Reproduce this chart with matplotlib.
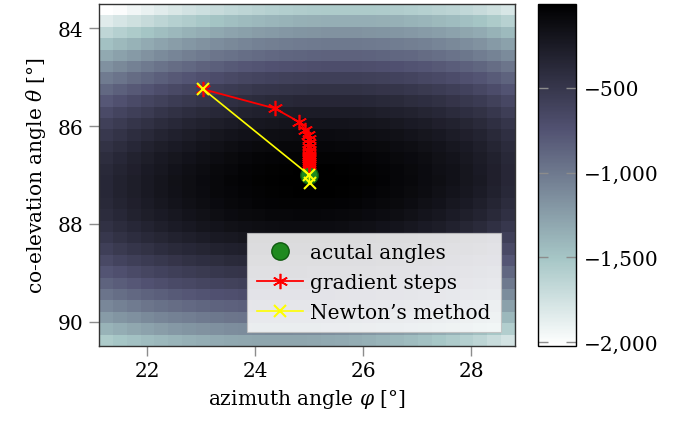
import numpy as np
import matplotlib
matplotlib.use('Agg')
import matplotlib.pyplot as plt
from matplotlib.ticker import FuncFormatter

plt.rcParams['font.family'] = ['DejaVu Serif']
plt.rcParams['mathtext.fontset'] = 'dejavuserif'
plt.rcParams['font.size'] = 14.5

# grid extent of the cost map (degrees)
phi_range = [21.11, 28.81]
theta_range = [83.51, 90.49]

# cost along the centre column, one value per row (top to bottom)
row_profile = [-1560, -1360, -1180, -1010, -860, -710, -580, -460, -355, -260,
               -180, -115, -65, -30, -8, 0, -8, -30, -65, -115,
               -180, -260, -355, -460, -570, -690, -820, -960, -1120, -1300]
# cost along the centre row, one value per column (left to right)
col_profile = [-370, -322, -278, -237, -199, -164, -133, -105, -80, -59,
               -41, -26, -15, -7, -2, 0, -2, -7, -15, -26,
               -41, -59, -80, -105, -133, -164, -199, -237, -290, -350]
# tilt of the valley: half of (right edge - left edge) per row
row_tilt = [120, 112, 103, 95, 87, 79, 70, 62, 54, 45,
            37, 29, 21, 12, 4, -4, -12, -21, -29, -37,
            -45, -54, -62, -70, -79, -87, -95, -103, -112, -120]

actual_phi = [25.0]
actual_theta = [87.0]

grad_phi = [23.04, 24.36, 24.82, 24.93, 24.98, 25.0, 25.0, 25.0, 25.0, 25.0,
            25.0, 25.0, 25.0, 25.0, 25.0, 25.0]
grad_theta = [85.25, 85.64, 85.92, 86.09, 86.19, 86.27, 86.35, 86.42, 86.48, 86.54,
              86.59, 86.64, 86.68, 86.72, 86.76, 86.80]

newton_phi = [23.04, 25.0, 25.01]
newton_theta = [85.25, 87.0, 87.17]

cbar_ticks = [-2000, -1500, -1000, -500]
cmin, cmax = -2024, -4

# build the map table from the read profiles
rows = np.array(row_profile, dtype=float)
cols = np.array(col_profile, dtype=float)
tilt = np.array(row_tilt, dtype=float)
cost = rows[:, None] + cols[None, :] + tilt[:, None] * np.linspace(-1, 1, len(cols))[None, :]

x_edges = np.linspace(phi_range[0], phi_range[1], len(cols) + 1)
y_edges = np.linspace(theta_range[0], theta_range[1], len(rows) + 1)

fig = plt.figure(figsize=(6.86, 4.27), dpi=100)
ax = fig.add_axes([99 / 686, 80 / 427, 416 / 686, 342 / 427])
mesh = ax.pcolormesh(x_edges, y_edges, cost, cmap='bone_r', vmin=cmin, vmax=cmax)

ax.plot(actual_phi, actual_theta, 'o', color='#1f8a1f', markeredgecolor='#0f5a0f',
        markersize=12.5, label='acutal angles', zorder=3)
ax.plot(grad_phi, grad_theta, '-', color='red', lw=1.3, marker=(6, 2, 0),
        markersize=11, markeredgewidth=1.2, label='gradient steps', zorder=4)
ax.plot(newton_phi, newton_theta, '-', color='#ffff00', lw=1.2, marker='x',
        markersize=9, markeredgewidth=1.5, label="Newton’s method", zorder=5)

ax.set_xlim(phi_range)
ax.set_ylim(theta_range[1], theta_range[0])
ax.set_xticks([22, 24, 26, 28])
ax.set_yticks([84, 86, 88, 90])
ax.tick_params(direction='out', length=7, width=1, color='0.55', pad=4)
for s in ax.spines.values():
    s.set_color('0.2')
    s.set_linewidth(1)
ax.set_xlabel(r'azimuth angle $\varphi$ [°]', labelpad=5)
ax.set_ylabel(r'co-elevation angle $\theta$ [°]', labelpad=7)

leg = ax.legend(loc='lower right', borderaxespad=0.7, framealpha=0.85, fancybox=False,
                edgecolor='0.75', handlelength=2.3, handletextpad=0.35,
                labelspacing=0.55, borderpad=0.5)
leg.get_frame().set_linewidth(0.8)

cax = fig.add_axes([538 / 686, 80 / 427, 38 / 686, 342 / 427])
cb = fig.colorbar(mesh, cax=cax, ticks=cbar_ticks)
cb.outline.set_linewidth(1)
cb.formatter = FuncFormatter(lambda v, p: f'{v:,.0f}'.replace('-', '\u2212'))
cb.update_ticks()
cax.tick_params(direction='in', length=7, width=1, color='0.55', left=True, right=True,
                labelleft=False, labelright=True, pad=6)

fig.savefig('out.png', dpi=100)
